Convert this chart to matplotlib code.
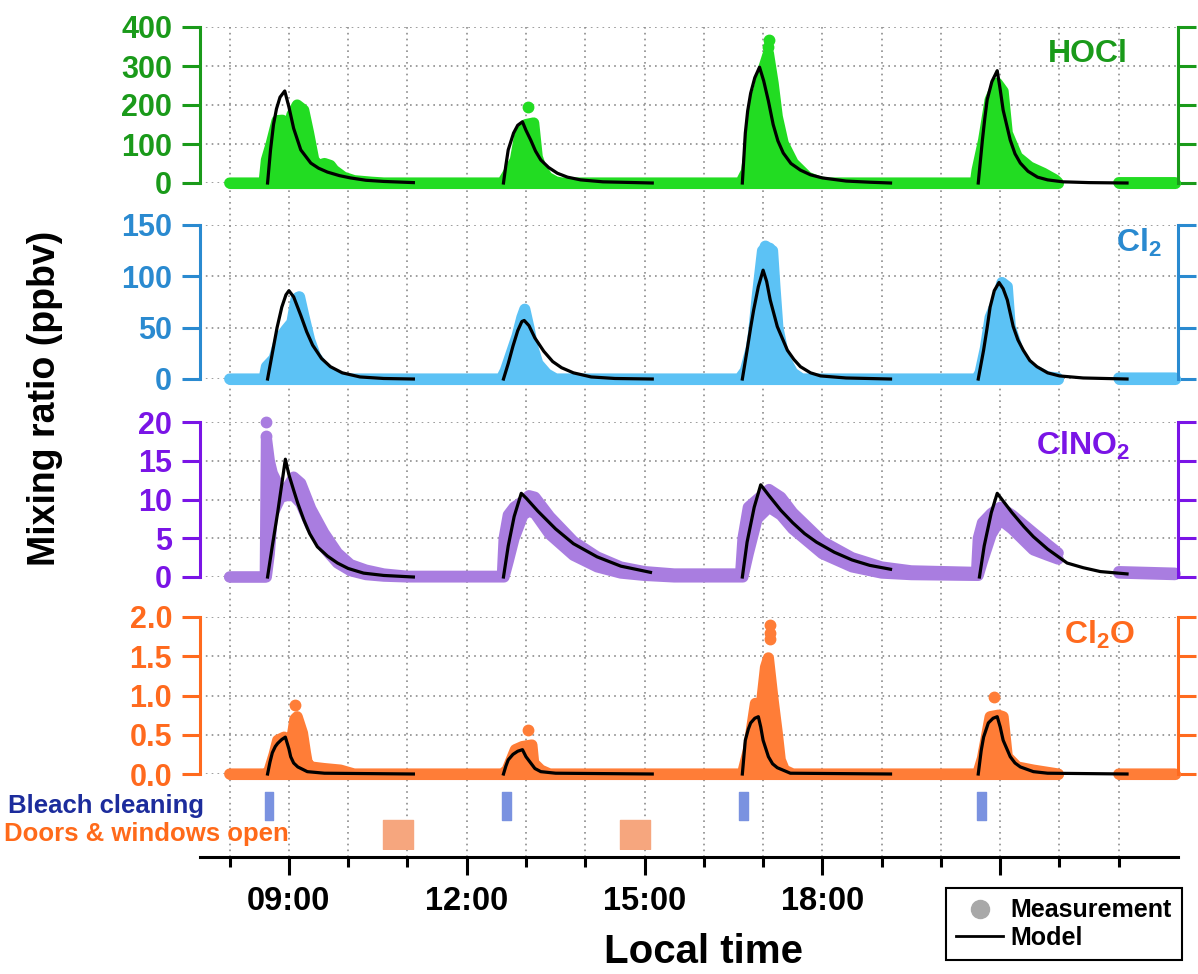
import numpy as np
import matplotlib
matplotlib.use('Agg')
import matplotlib.pyplot as plt
from matplotlib.lines import Line2D
from matplotlib.ticker import FormatStrFormatter

plt.rcParams['font.family'] = ['Liberation Sans', 'DejaVu Sans']
plt.rcParams['font.weight'] = 'bold'
plt.rcParams['mathtext.fontset'] = 'custom'
plt.rcParams['mathtext.rm'] = 'Liberation Sans:bold'
plt.rcParams['mathtext.bf'] = 'Liberation Sans:bold'

nan = np.nan

# ---- measurements: time (h), upper / lower edge of the point cloud ----
hocl_t = [8.0, 8.58, 8.62, 8.7, 8.8, 8.89, 8.97, 9.05, 9.14, 9.25, 9.33, 9.42, 9.5, 9.6, 9.7, 9.76,
          9.92, 10.1, 10.4, 10.6, 12.6, 12.68, 12.82, 12.9, 13.0, 13.13, 13.19, 13.25, 13.36, 13.5,
          13.6, 16.62, 16.72, 16.8, 16.87, 16.93, 17.0, 17.09, 17.17, 17.24, 17.34, 17.51, 17.75,
          17.95, 18.1, 20.58, 20.61, 20.72, 20.83, 20.95, 21.05, 21.12, 21.29, 21.5, 21.73, 21.93,
          21.97, nan, 23.0, 23.95]
hocl_hi = [0, 0, 59, 100, 160, 161, 128, 175, 200, 187, 130, 59, 45, 50, 45, 33,
           15, 6, 2, 0, 0, 20, 59, 128, 150, 154, 67, 41, 15, 3,
           0, 0, 30, 120, 213, 240, 290, 333, 256, 170, 102, 51, 15,
           3, 0, 0, 33, 110, 213, 256, 235, 128, 67, 41, 25, 8,
           2, nan, 1, 1]
hocl_lo = [0] * 57 + [nan, 0, 0]
hocl_out_t = [13.03, 17.1, 17.09]
hocl_out_v = [195, 366, 350]

cl2_t = [8.0, 8.58, 8.62, 8.75, 8.85, 8.95, 9.05, 9.12, 9.18, 9.25, 9.35, 9.45, 9.6, 9.8, 10.0,
         12.58, 12.65, 12.75, 12.85, 12.93, 12.98, 13.05, 13.12, 13.2, 13.35, 13.5,
         16.6, 16.7, 16.8, 16.84, 16.9, 16.99, 17.05, 17.16, 17.2, 17.25, 17.35, 17.5, 17.65,
         20.6, 20.66, 20.75, 20.83, 20.95, 21.03, 21.12, 21.17, 21.34, 21.56, 21.8, 21.97,
         nan, 23.0, 23.95]
cl2_hi = [0, 0, 12, 20, 40, 48, 55, 78, 80, 62, 38, 22, 10, 3, 0,
          0, 8, 25, 42, 60, 68, 50, 30, 15, 5, 0,
          0, 8, 30, 45, 80, 125, 128, 125, 90, 50, 22, 6, 0,
          0, 6, 30, 60, 77, 94, 90, 51, 21, 9, 2, 1,
          nan, 1, 1]
cl2_lo = [0] * 51 + [nan, 0, 0]
cl2_out_t = [9.15, 17.03, 17.1]
cl2_out_v = [80, 130, 128]

clno2_t = [8.0, 8.6, 8.62, 8.67, 8.72, 8.86, 8.97, 9.08, 9.2, 9.37, 9.59, 9.82, 10.04, 10.3, 10.6, 11.0,
           12.6, 12.63, 12.7, 12.8, 12.95, 13.05, 13.15, 13.4, 13.8, 14.2, 14.6, 15.0, 15.5,
           16.62, 16.66, 16.75, 16.9, 17.1, 17.3, 17.5, 18.0, 18.5, 19.0, 19.5,
           20.6, 20.63, 20.7, 20.85, 21.0, 21.2, 21.56, 21.8, 21.98, nan, 23.0, 23.95]
clno2_hi = [0, 0, 18, 15, 13.4, 11.2, 11.5, 12.9, 12.1, 8.8, 5.7, 3.1, 1.6, 0.9, 0.4, 0.1,
            0.1, 5, 8, 9, 9.8, 10.5, 10.3, 7.8, 4.6, 2.6, 1.3, 0.7, 0.4,
            0.4, 5, 9, 10, 11.3, 10.3, 8.3, 4.6, 2.5, 1.3, 0.8,
            0.6, 5, 7, 8.2, 9.0, 8.0, 5.7, 4.2, 3.1, nan, 0.7, 0.5]
clno2_lo = [0, 0, 0, 3, 8, 10.3, 10.5, 10.5, 9.5, 6.5, 3.8, 1.8, 0.8, 0.3, 0.1, 0,
            0, 0, 2, 5, 8, 8.5, 8.2, 5.5, 2.8, 1.3, 0.5, 0.2, 0,
            0, 0, 3, 7.5, 9, 8, 6.2, 3, 1.3, 0.5, 0.3,
            0.2, 0.2, 2, 5.5, 7.4, 6.2, 3.5, 2.8, 2.3, nan, 0.5, 0.3]
clno2_out_t = [8.62, 8.62]
clno2_out_v = [20, 18.2]

cl2o_t = [8.0, 8.62, 8.66, 8.75, 8.81, 8.92, 9.03, 9.1, 9.14, 9.23, 9.28, 9.31, 9.37, 9.59, 9.87, 10.1,
          12.6, 12.68, 12.82, 12.94, 13.1, 13.13, 13.25, 13.4,
          16.65, 16.75, 16.87, 16.95, 17.04, 17.09, 17.17, 17.24, 17.29, 17.36, 17.5,
          20.62, 20.7, 20.83, 20.97, 21.05, 21.12, 21.29, 21.56, 21.98, nan, 23.0, 23.95]
cl2o_hi = [0, 0, 0.03, 0.25, 0.43, 0.47, 0.35, 0.7, 0.73, 0.52, 0.27, 0.14, 0.09, 0.07, 0.05, 0,
           0, 0.05, 0.31, 0.35, 0.37, 0.14, 0.05, 0,
           0, 0.3, 0.9, 0.75, 1.36, 1.48, 0.94, 0.52, 0.18, 0.05, 0,
           0, 0.2, 0.73, 0.75, 0.73, 0.22, 0.09, 0.05, 0, nan, 0, 0]
cl2o_lo = [0] * 44 + [nan, 0, 0]
cl2o_out_t = [9.11, 13.03, 17.12, 17.11, 17.12, 20.9]
cl2o_out_v = [0.88, 0.56, 1.9, 1.8, 1.72, 0.98]

# ---- box model output ----
hocl_mt = [8.64, 8.69, 8.74, 8.79, 8.85, 8.93, 9.0, 9.08, 9.2, 9.37, 9.5, 9.65, 9.85, 10.04, 10.3, 10.6, 11.1, nan,
           12.62, 12.66, 12.7, 12.79, 12.86, 12.94, 13.0, 13.08, 13.16, 13.25, 13.38, 13.53, 13.7, 13.92, 14.3, 15.13, nan,
           16.65, 16.7, 16.74, 16.79, 16.86, 16.94, 17.01, 17.09, 17.17, 17.25, 17.34, 17.47, 17.63, 17.8, 18.0, 18.4, 18.8, 19.15, nan,
           20.63, 20.7, 20.74, 20.78, 20.86, 20.95, 21.0, 21.05, 21.17, 21.25, 21.34, 21.47, 21.63, 21.8, 22.06, 22.5, 23.14]
hocl_mv = [0, 85, 150, 190, 220, 236, 195, 140, 85, 51, 38, 28, 19, 13, 7, 4, 1, nan,
           0, 45, 85, 128, 148, 157, 135, 110, 82, 59, 40, 25, 15, 8, 3, 0, nan,
           0, 128, 185, 230, 270, 297, 262, 210, 150, 108, 77, 50, 33, 21, 13, 5, 2, 0, nan,
           0, 110, 165, 213, 260, 288, 240, 187, 110, 75, 51, 30, 15, 8, 3, 1, 0]

cl2_mt = [8.64, 8.72, 8.8, 8.88, 8.95, 9.0, 9.08, 9.2, 9.3, 9.4, 9.55, 9.7, 9.9, 10.2, 10.6, 11.1, nan,
          12.62, 12.7, 12.78, 12.86, 12.93, 12.97, 13.05, 13.15, 13.3, 13.45, 13.6, 13.8, 14.1, 14.5, 15.13, nan,
          16.65, 16.73, 16.79, 16.84, 16.92, 17.0, 17.06, 17.12, 17.24, 17.41, 17.52, 17.63, 17.8, 17.97, 18.4, 19.15, nan,
          20.63, 20.72, 20.78, 20.83, 20.9, 20.98, 21.05, 21.12, 21.22, 21.3, 21.39, 21.5, 21.62, 21.8, 22.0, 22.4, 23.14]
cl2_mv = [0, 25, 50, 70, 82, 86, 80, 62, 46, 33, 20, 12, 6, 2, 0.5, 0, nan,
          0, 15, 32, 47, 56, 57, 52, 40, 27, 17, 11, 6, 2, 0.5, 0, nan,
          0, 28, 50, 67, 90, 106, 95, 77, 51, 28, 19, 12, 6, 3, 1, 0, nan,
          0, 28, 50, 70, 86, 94, 88, 77, 51, 38, 28, 18, 12, 6, 3, 1, 0]

clno2_mt = [8.64, 8.72, 8.81, 8.88, 8.94, 9.0, 9.08, 9.15, 9.25, 9.35, 9.48, 9.65, 9.82, 10.0, 10.26, 10.6, 11.1, nan,
            12.62, 12.7, 12.8, 12.92, 13.0, 13.2, 13.5, 13.8, 14.2, 14.6, 15.1, nan,
            16.65, 16.73, 16.85, 16.96, 17.1, 17.3, 17.5, 17.7, 17.9, 18.2, 18.5, 18.8, 19.15, nan,
            20.65, 20.73, 20.85, 20.95, 21.0, 21.2, 21.4, 21.56, 21.8, 22.13, 22.4, 22.69, 23.14]
clno2_mv = [0, 4, 8.3, 12, 15.2, 13.2, 11.2, 9.5, 7.4, 5.6, 3.9, 2.7, 1.8, 1.1, 0.5, 0.2, 0, nan,
            0, 4, 7.8, 10.8, 10.2, 8.5, 6.2, 4.3, 2.6, 1.4, 0.6, nan,
            0, 4.5, 9, 11.9, 10.5, 8.6, 7.0, 5.6, 4.5, 3.2, 2.2, 1.5, 1.0, nan,
            0, 4, 8.3, 10.8, 10.3, 8.3, 6.5, 5.2, 3.6, 1.8, 1.2, 0.7, 0.4]

cl2o_mt = [8.64, 8.68, 8.72, 8.77, 8.81, 8.88, 8.94, 9.0, 9.03, 9.08, 9.15, 9.31, 9.6, 11.1, nan,
           12.62, 12.66, 12.7, 12.78, 12.86, 12.94, 13.0, 13.08, 13.15, 13.25, 13.5, 15.13, nan,
           16.65, 16.7, 16.75, 16.79, 16.86, 16.92, 16.96, 17.0, 17.09, 17.16, 17.24, 17.46, 19.15, nan,
           20.63, 20.68, 20.72, 20.8, 20.88, 20.95, 21.0, 21.05, 21.17, 21.25, 21.34, 21.56, 21.8, 23.14]
cl2o_mv = [0, 0.15, 0.27, 0.35, 0.39, 0.44, 0.47, 0.32, 0.22, 0.14, 0.09, 0.03, 0.01, 0, nan,
           0, 0.1, 0.18, 0.25, 0.29, 0.31, 0.22, 0.14, 0.07, 0.03, 0.01, 0, nan,
           0, 0.43, 0.57, 0.65, 0.71, 0.73, 0.6, 0.43, 0.22, 0.13, 0.08, 0.01, 0, nan,
           0, 0.3, 0.47, 0.65, 0.71, 0.73, 0.6, 0.43, 0.22, 0.14, 0.09, 0.03, 0.01, 0]

# ---- activity log (h) ----
bleach_start = [8.59, 12.60, 16.60, 20.61]
bleach_end = [8.74, 12.75, 16.75, 20.76]
doors_start = [10.58, 14.59]
doors_end = [11.09, 15.10]

hour_ticks = list(range(8, 24))
major_hours = [9, 12, 15, 18, 21]
major_labels = ['09:00', '12:00', '15:00', '18:00', '']

W_PX, H_PX = 1198, 974
LEFT, RIGHT = 200, 1178


def fy(px):
    return 1 - px / H_PX


def panel_rect(top, bottom):
    return [LEFT / W_PX, fy(bottom), (RIGHT - LEFT) / W_PX, (bottom - top) / H_PX]


grid_kw = dict(color='#8c8c8c', lw=1.2, ls=(0, (1, 2.5)))
XLIM = (7.5, 24.0)

fig = plt.figure(figsize=(W_PX / 100, H_PX / 100), dpi=100)

# background axes: hourly grid and the time axis
bg = fig.add_axes(panel_rect(27, 857), zorder=0)
bg.set_xlim(*XLIM)
bg.set_ylim(0, 1)
bg.set_xticks(major_hours)
bg.set_xticklabels(major_labels)
bg.set_xticks([h for h in hour_ticks if h not in major_hours], minor=True)
bg.set_yticks([])
bg.grid(axis='x', which='both', **grid_kw)
for s in ['left', 'right', 'top']:
    bg.spines[s].set_visible(False)
bg.spines['bottom'].set_linewidth(2.2)
bg.tick_params(axis='x', which='major', length=13, width=2.2, labelsize=23.5, pad=8)
bg.tick_params(axis='x', which='minor', length=7, width=2.2)

panels = [
    dict(name='HOCl', box=(27, 183), top=400, ticks=[0, 100, 200, 300, 400], fmt='%d',
         data='#22dc22', axis='#1a9a1a', meas=(hocl_t, hocl_hi, hocl_lo), out=(hocl_out_t, hocl_out_v),
         model=(hocl_mt, hocl_mv), label_xy=(1128, 62)),
    dict(name=r'Cl$_2$', box=(225, 379), top=150, ticks=[0, 50, 100, 150], fmt='%d',
         data='#5cc2f5', axis='#2a8ad0', meas=(cl2_t, cl2_hi, cl2_lo), out=(cl2_out_t, cl2_out_v),
         model=(cl2_mt, cl2_mv), label_xy=(1162, 252)),
    dict(name=r'ClNO$_2$', box=(422, 577), top=20, ticks=[0, 5, 10, 15, 20], fmt='%d',
         data='#a97de0', axis='#7a14e6', meas=(clno2_t, clno2_hi, clno2_lo), out=(clno2_out_t, clno2_out_v),
         model=(clno2_mt, clno2_mv), label_xy=(1130, 455)),
    dict(name=r'Cl$_2$O', box=(617, 774), top=2.0, ticks=[0, 0.5, 1.0, 1.5, 2.0], fmt='%.1f',
         data='#ff7d37', axis='#ff6a1e', meas=(cl2o_t, cl2o_hi, cl2o_lo), out=(cl2o_out_t, cl2o_out_v),
         model=(cl2o_mt, cl2o_mv), label_xy=(1135, 644)),
]

for p in panels:
    ax = fig.add_axes(panel_rect(*p['box']), zorder=2)
    ax.patch.set_alpha(0)
    ax.set_xlim(*XLIM)
    ax.set_ylim(0, p['top'])
    ax.set_yticks(p['ticks'])
    ax.yaxis.set_major_formatter(FormatStrFormatter(p['fmt']))
    ax.set_xticks([])
    ax.grid(axis='y', **grid_kw)
    ax.set_axisbelow(True)
    for s in ['top', 'bottom']:
        ax.spines[s].set_visible(False)
    for s in ['left', 'right']:
        ax.spines[s].set_color(p['axis'])
        ax.spines[s].set_linewidth(2.2)
    ax.tick_params(axis='y', left=True, right=True, labelright=False, direction='out',
                   length=13, width=2.2, color=p['axis'], labelcolor=p['axis'],
                   labelsize=22, pad=7)

    t, hi, lo = (np.array(a, dtype=float) for a in p['meas'])
    c = p['data']
    ax.fill_between(t, lo, hi, color=c, lw=0, clip_on=False, zorder=2)
    for edge in (hi, lo):
        ax.plot(t, edge, color=c, lw=8, solid_capstyle='round', solid_joinstyle='round',
                clip_on=False, zorder=2)
    ax.plot(*p['out'], 'o', ms=7.5, color=c, clip_on=False, zorder=2)
    ax.plot(*p['model'], color='black', lw=2.3, clip_on=False, zorder=3)

    lx, ly = p['label_xy']
    fig.text(lx / W_PX, fy(ly), p['name'], ha='right', va='baseline',
             color=p['axis'], fontsize=23)

# activity strip under the panels
ev = fig.add_axes(panel_rect(790, 850), zorder=1)
ev.set_xlim(*XLIM)
ev.set_ylim(0, 60)
ev.axis('off')
ev.broken_barh([(s, e - s) for s, e in zip(bleach_start, bleach_end)], (30, 28), color='#7a92e0')
ev.broken_barh([(s, e - s) for s, e in zip(doors_start, doors_end)], (1, 29), color='#f6a67e')

fig.text(8 / W_PX, fy(806), 'Bleach cleaning', ha='left', va='center', color='#1c2c9c', fontsize=18.5)
fig.text(4 / W_PX, fy(834), 'Doors & windows open', ha='left', va='center', color='#ff6a1a', fontsize=18.5)

fig.text(45 / W_PX, fy(398), 'Mixing ratio (ppbv)', rotation=90, ha='center', va='center', fontsize=27)
fig.text(703 / W_PX, fy(952), 'Local time', ha='center', va='center', fontsize=29)

handles = [Line2D([], [], ls='none', marker='o', ms=13, color='#a8a8a8'),
           Line2D([], [], color='black', lw=2)]
leg = fig.legend(handles, ['Measurement', 'Model'], loc='lower right',
                 bbox_to_anchor=(1182 / W_PX, fy(960)), frameon=True, fancybox=False,
                 edgecolor='black', framealpha=1, fontsize=18, handlelength=1.9,
                 handletextpad=0.3, labelspacing=0.15, borderpad=0.4, borderaxespad=0)
leg.get_frame().set_linewidth(1.5)

fig.savefig('out.png', dpi=100)
